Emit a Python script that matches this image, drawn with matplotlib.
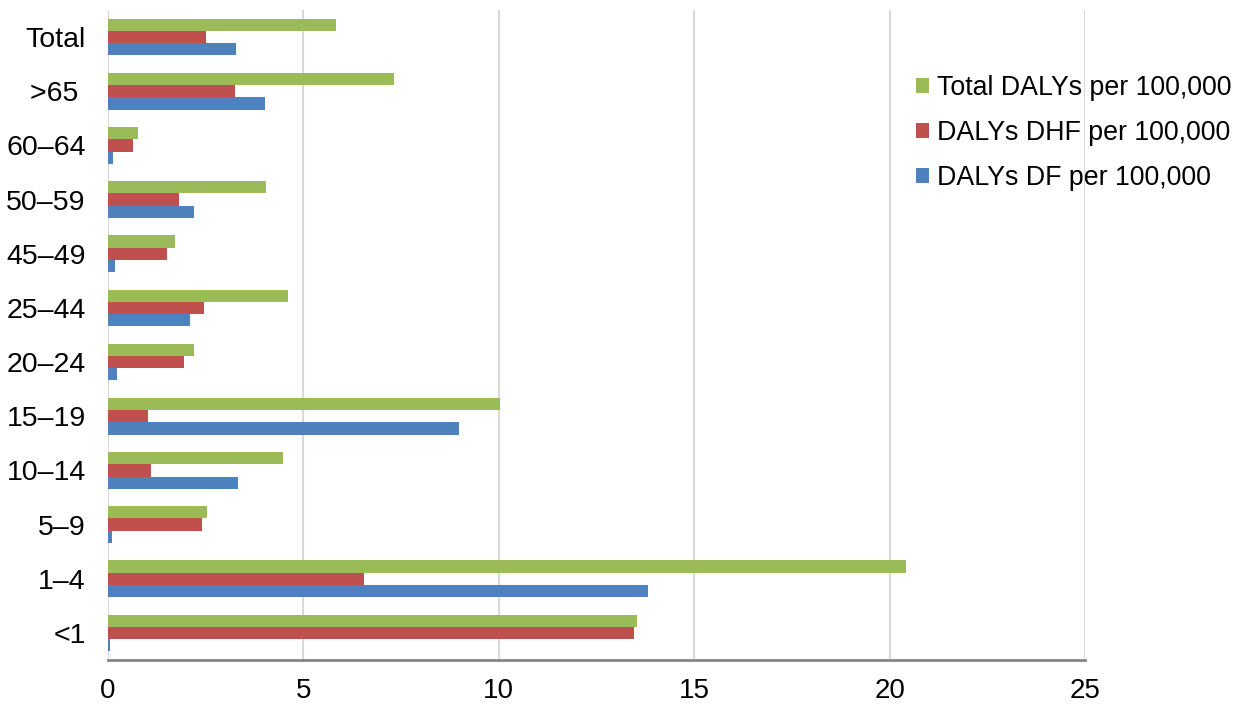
import numpy as np
import matplotlib
matplotlib.use("Agg")
import matplotlib.pyplot as plt

plt.rcParams['font.family'] = ['Liberation Sans', 'DejaVu Sans']

# Data (bottom to top)
age_groups = ["<1", "1\u20134", "5\u20139", "10\u201314", "15\u201319", "20\u201324",
              "25\u201344", "45\u201349", "50\u201359", "60\u201364", ">65 ", "Total"]
dalys_df = [0.05, 13.82, 0.09, 3.33, 8.98, 0.22, 2.10, 0.17, 2.20, 0.13, 4.03, 3.27]
dalys_dhf = [13.45, 6.54, 2.41, 1.10, 1.02, 1.95, 2.46, 1.51, 1.81, 0.63, 3.26, 2.52]
dalys_total = [13.53, 20.41, 2.54, 4.48, 10.03, 2.21, 4.60, 1.71, 4.05, 0.78, 7.33, 5.83]

c_green = "#9BBB59"
c_red = "#C0504D"
c_blue = "#4F81BD"

fig = plt.figure(figsize=(12.51, 7.08), dpi=100)
ax = fig.add_axes([108/1251, 48/708, 977/1251, 650/708])

y = np.arange(len(age_groups))
h = 0.225
ax.barh(y + h, dalys_total, height=h, color=c_green, label="Total DALYs per 100,000", zorder=3)
ax.barh(y, dalys_dhf, height=h, color=c_red, label="DALYs DHF per 100,000", zorder=3)
ax.barh(y - h, dalys_df, height=h, color=c_blue, label="DALYs DF per 100,000", zorder=3)

ax.set_xlim(0, 25)
ax.set_ylim(-0.5, len(age_groups) - 0.5)
ax.set_xticks(np.arange(0, 26, 5))
ax.set_yticks(y)
ax.set_yticklabels(age_groups, fontsize=20.5)
ax.tick_params(axis='both', length=0)
ax.tick_params(axis='y', pad=16)
ax.tick_params(axis='x', pad=13, labelsize=20)
ax.xaxis.grid(True, color="#D9D9D9", linewidth=1.5, zorder=0)
for s in ["top", "right", "left"]:
    ax.spines[s].set_visible(False)
ax.spines["bottom"].set_color("#868686")
ax.spines["bottom"].set_linewidth(2)
ax.spines["bottom"].set_zorder(4)

fig.legend(loc="center left", bbox_to_anchor=(905/1251, 1 - 133/708), frameon=False,
           fontsize=19.3, handlelength=0.5, handleheight=0.5, handletextpad=0.3,
           labelspacing=0.72, borderaxespad=0)

fig.savefig("out.png", dpi=100)
